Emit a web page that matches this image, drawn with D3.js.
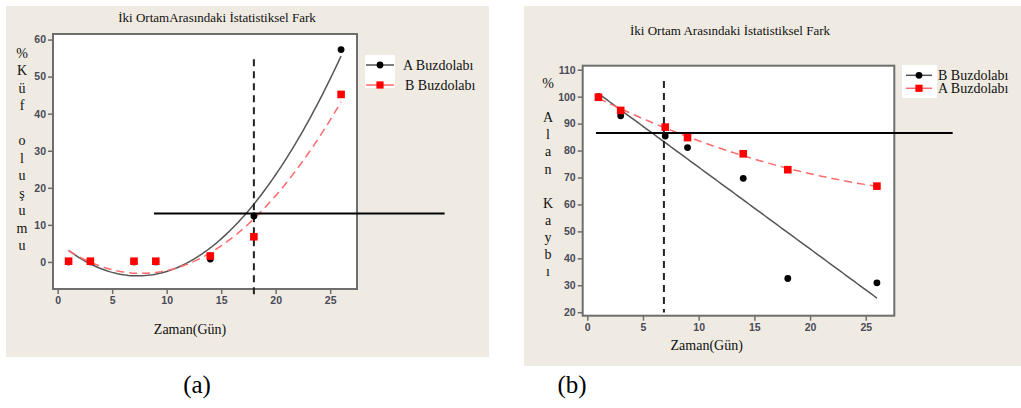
<!DOCTYPE html>
<html><head><meta charset="utf-8">
<script src="https://cdn.jsdelivr.net/npm/d3@7"></script>
<style>body{margin:0;background:#fff}svg{display:block}</style>
</head><body><svg id="c" width="1021" height="408"></svg>
<script>
// ---------- data ----------
const days = [1, 3, 7, 9, 14, 18, 26];
// panel (a): % Küf oluşumu
const moldFridgeA = [0, 0, 0, 0, 0.8, 12.4, 57.3];
const moldFridgeB = [0.2, 0.2, 0.2, 0.2, 1.6, 6.8, 45.2];
// panel (b): % Alan Kaybı
const lossFridgeB = [100, 92.9, 85.4, 81.1, 69.7, 32.5, 30.9];
const lossFridgeA = [99.8, 94.9, 88.7, 84.8, 78.8, 72.9, 66.8];
const xTickValues = [0, 5, 10, 15, 20, 25];
const yTicksA = [0, 10, 20, 30, 40, 50, 60];
const yTicksB = [20, 30, 40, 50, 60, 70, 80, 90, 100, 110];
// reference lines: horizontal level and its x extent, vertical day and its y extent
const refHorizA = [13.1, 8.83, 35.5];
const refVertA = [18, 54.7, -8.9];
const refHorizB = [86.5, 0.78, 32.8];
const refVertB = [6.88, 105.8, 19.9];

const svg = d3.select('#c');
const SERIF = '"Liberation Serif","Times New Roman",serif';
const SANS = '"Liberation Sans",Arial,sans-serif';

function polyFit(xs, ys, deg) {
  const n = deg + 1;
  const M = Array.from({length: n}, () => new Array(n + 1).fill(0));
  for (let r = 0; r < n; r++) {
    for (let c = 0; c < n; c++) M[r][c] = d3.sum(xs, x => Math.pow(x, r + c));
    M[r][n] = d3.sum(xs, (x, i) => Math.pow(x, r) * ys[i]);
  }
  for (let i = 0; i < n; i++) {
    let p = i;
    for (let k = i + 1; k < n; k++) if (Math.abs(M[k][i]) > Math.abs(M[p][i])) p = k;
    [M[i], M[p]] = [M[p], M[i]];
    for (let k = i + 1; k < n; k++) {
      const f = M[k][i] / M[i][i];
      for (let j = i; j <= n; j++) M[k][j] -= f * M[i][j];
    }
  }
  const coef = new Array(n).fill(0);
  for (let i = n - 1; i >= 0; i--) {
    let s = M[i][n];
    for (let j = i + 1; j < n; j++) s -= M[i][j] * coef[j];
    coef[i] = s / M[i][i];
  }
  return x => coef.reduce((a, c, i) => a + c * Math.pow(x, i), 0);
}

function panel(cfg) {
  const g = svg.append('g');
  g.append('rect').attr('x', cfg.bg[0]).attr('y', cfg.bg[1]).attr('width', cfg.bg[2]).attr('height', cfg.bg[3]).attr('fill', '#efebe2');
  const [L, T, R, B] = cfg.plot;
  g.append('rect').attr('x', L).attr('y', T).attr('width', R - L).attr('height', B - T).attr('fill', '#fff');
  const x = d3.scaleLinear().domain(cfg.xDom).range([L, R]);
  const y = d3.scaleLinear().domain(cfg.yDom).range([B, T]);

  // axes
  const ax = g.append('g').attr('transform', `translate(0,${B})`)
    .call(d3.axisBottom(x).tickValues(xTickValues).tickSize(5).tickPadding(3));
  const ay = g.append('g').attr('transform', `translate(${L},0)`)
    .call(d3.axisLeft(y).tickValues(cfg.yTicks).tickSize(5).tickPadding(2));
  [ax, ay].forEach(a => {
    a.select('.domain').remove();
    a.selectAll('line').attr('stroke', '#6e6e6e').attr('stroke-width', 1.5);
    a.selectAll('text').attr('font-family', SANS).attr('font-weight', 'bold').attr('font-size', 10.5).attr('fill', '#4a4a58');
  });

  // fitted lines
  const line = d3.line().x(d => x(d[0])).y(d => y(d[1]));
  const xs = d3.range(days[0], days[days.length - 1] + 0.001, 0.25);
  cfg.series.forEach(s => {
    const f = polyFit(days, s.values, s.deg);
    g.append('path').attr('d', line(xs.map(v => [v, f(v)])))
      .attr('fill', 'none').attr('stroke', s.lineColor).attr('stroke-width', 1.5)
      .attr('stroke-dasharray', s.dash || null);
  });

  // frame
  g.append('rect').attr('x', L).attr('y', T).attr('width', R - L).attr('height', B - T)
    .attr('fill', 'none').attr('stroke', '#6e6e6e').attr('stroke-width', 2);

  // reference lines
  g.append('line').attr('x1', x(cfg.hRef[1])).attr('x2', x(cfg.hRef[2]))
    .attr('y1', y(cfg.hRef[0])).attr('y2', y(cfg.hRef[0]))
    .attr('stroke', '#000').attr('stroke-width', 2);
  g.append('line').attr('x1', x(cfg.vRef[0])).attr('x2', x(cfg.vRef[0]))
    .attr('y1', y(cfg.vRef[1])).attr('y2', y(cfg.vRef[2]))
    .attr('stroke', '#222').attr('stroke-width', 2).attr('stroke-dasharray', '7,5');

  // markers
  cfg.series.forEach(s => {
    const pts = days.map((d, i) => [d, s.values[i]]);
    if (s.marker === 'circle') {
      g.selectAll(null).data(pts).enter().append('circle')
        .attr('cx', d => x(d[0])).attr('cy', d => y(d[1])).attr('r', 3.4).attr('fill', '#000');
    } else {
      g.selectAll(null).data(pts).enter().append('rect')
        .attr('x', d => x(d[0]) - 3.8).attr('y', d => y(d[1]) - 3.8)
        .attr('width', 7.6).attr('height', 7.6).attr('fill', '#f00');
    }
  });

  // title
  g.append('text').attr('x', cfg.title[1]).attr('y', cfg.title[2]).attr('text-anchor', 'middle')
    .attr('font-family', SERIF).attr('font-size', 13).attr('fill', '#111').text(cfg.title[0]);
  // x label
  g.append('text').attr('x', cfg.xLab[0]).attr('y', cfg.xLab[1]).attr('text-anchor', 'middle')
    .attr('font-family', SERIF).attr('font-size', 14).attr('fill', '#111').text('Zaman(Gün)');
  // y label stacked letters
  Array.from(cfg.yLab[0]).forEach((ch, i) => {
    g.append('text').attr('x', cfg.yLab[1]).attr('y', cfg.yLab[2] + i * cfg.yLab[3] + 5)
      .attr('text-anchor', 'middle').attr('font-family', SERIF).attr('font-size', 14).attr('fill', '#111').text(ch);
  });

  // legend
  const lg = cfg.legend;
  g.append('rect').attr('x', lg.box[0]).attr('y', lg.box[1]).attr('width', lg.box[2]).attr('height', lg.box[3]).attr('fill', '#fff');
  cfg.series.forEach((s, i) => {
    const yy = lg.rows[i];
    g.append('line').attr('x1', lg.line[0]).attr('x2', lg.line[1]).attr('y1', yy).attr('y2', yy)
      .attr('stroke', s.lineColor).attr('stroke-width', 1.5);
    const cx = (lg.line[0] + lg.line[1]) / 2;
    if (s.marker === 'circle') g.append('circle').attr('cx', cx).attr('cy', yy).attr('r', 3.4).attr('fill', '#000');
    else g.append('rect').attr('x', cx - 3.6).attr('y', yy - 3.6).attr('width', 7.2).attr('height', 7.2).attr('fill', '#f00');
    g.append('text').attr('x', lg.textX[i]).attr('y', yy + 5).attr('font-family', SERIF).attr('font-size', 14)
      .attr('fill', '#111').text(s.name);
  });

  // panel caption
  svg.append('text').attr('x', cfg.caption[1]).attr('y', 393).attr('text-anchor', 'middle')
    .attr('font-family', SERIF).attr('font-size', 25).attr('fill', '#000').text(cfg.caption[0]);
}

panel({
  bg: [6, 6, 483, 351],
  plot: [53, 34, 357, 289],
  xDom: [-0.43, 27.46], yDom: [-7.3, 61.5],
  yTicks: yTicksA,
  series: [
    {name: 'A Buzdolabı', values: moldFridgeA, deg: 2, lineColor: '#555', marker: 'circle'},
    {name: 'B Buzdolabı', values: moldFridgeB, deg: 2, lineColor: '#ff6a6a', dash: '8,5', marker: 'square'}
  ],
  hRef: refHorizA, vRef: refVertA,
  title: ['İki OrtamArasındaki İstatistiksel Fark', 217, 22],
  xLab: [190, 334],
  yLab: ['%Küf oluşumu', 22, 53, 17.45],
  legend: {box: [365, 55, 30, 33], rows: [65, 85], line: [366, 394], textX: [403, 405]},
  caption: ['(a)', 197]
});

panel({
  bg: [524, 6, 497, 360],
  plot: [582.7, 65.7, 894.3, 315.7],
  xDom: [-0.41, 27.56], yDom: [18.7, 111.5],
  yTicks: yTicksB,
  series: [
    {name: 'B Buzdolabı', values: lossFridgeB, deg: 1, lineColor: '#555', marker: 'circle'},
    {name: 'A Buzdolabı', values: lossFridgeA, deg: 2, lineColor: '#ff6a6a', dash: '8,5', marker: 'square'}
  ],
  hRef: refHorizB, vRef: refVertB,
  title: ['İki Ortam Arasındaki İstatistiksel Fark', 730, 35],
  xLab: [706.7, 350],
  yLab: ['% Alan Kaybı', 548, 83, 17.1],
  legend: {box: [902, 65, 35, 33], rows: [75.3, 88.3], line: [906, 932], textX: [938, 938]},
  caption: ['(b)', 572]
});
</script>
</body></html>
